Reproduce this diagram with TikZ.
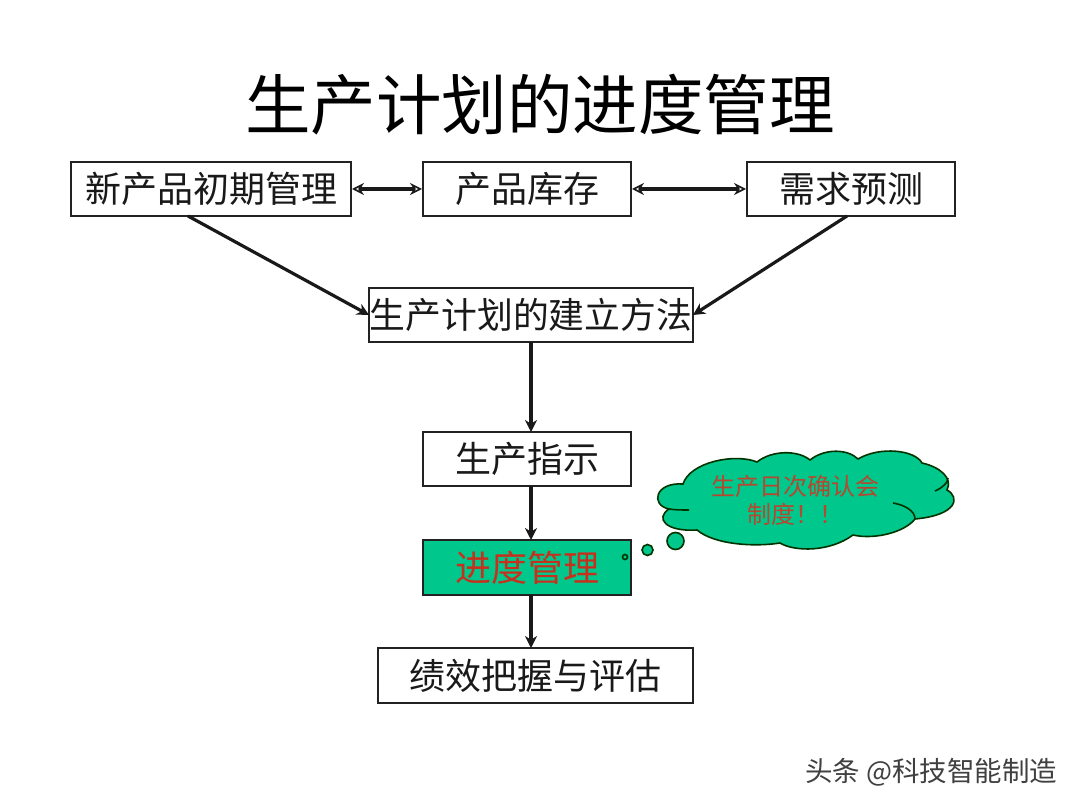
\documentclass[tikz,border=0pt]{standalone}
\usepackage{fontspec}
\usetikzlibrary{arrows.meta}
\newfontfamily\cjk{Noto Sans CJK SC}
\definecolor{cloudgreen}{HTML}{00C78C}
\definecolor{linegray}{HTML}{222222}
\definecolor{redtext}{HTML}{C8301E}
\definecolor{cloudred}{HTML}{B5482F}
\tikzset{
  box/.style={draw=linegray,line width=1.8pt,outer sep=0pt,fill=white,inner sep=0pt,anchor=north west,font=\cjk\fontsize{36}{40}\selectfont,text=black!90},
  conn/.style={line width=3.2pt,draw=black!90,-{Stealth[length=12pt,width=12pt]}},
  biconn/.style={line width=3.4pt,draw=black!90,{Stealth[length=12pt,width=12pt,open,line width=1.6pt]}-{Stealth[length=12pt,width=12pt,open,line width=1.6pt]},shorten <=1pt,shorten >=1pt},
  bubble/.style={draw=black!80!green,line width=1.6pt,fill=cloudgreen},
}
\begin{document}
\begin{tikzpicture}[x=1pt,y=-1pt]
\useasboundingbox[fill=white] (0,0) rectangle (1080,810);
\node[inner sep=0pt,font=\cjk\fontsize{65.5}{70}\selectfont,text=black] (title) at (540,105) {生产计划的进度管理};
\node[box,minimum width=280pt,minimum height=54pt] (a) at (71,162) {新产品初期管理};
\node[box,minimum width=208pt,minimum height=54pt] (b) at (423,162) {产品库存};
\node[box,minimum width=208pt,minimum height=54pt] (c) at (747,162) {需求预测};
\node[box,minimum width=324pt,minimum height=54pt,font=\cjk\fontsize{35.8}{40}\selectfont] (d) at (369,288) {生产计划的建立方法};
\node[box,minimum width=208pt,minimum height=54pt] (e) at (423,432) {生产指示};
\node[box,minimum width=208pt,minimum height=55pt,fill=cloudgreen,text=redtext] (f) at (423,540) {进度管理};
\node[box,minimum width=315pt,minimum height=55pt] (g) at (378,648) {绩效把握与评估};
\draw[biconn] (a.east) -- (b.west);
\draw[biconn] (b.east) -- (c.west);
\draw[conn] ([xshift=-23pt]a.south) -- (d.west);
\draw[conn] ([xshift=-4pt]c.south) -- (d.east);
\draw[conn] (d.south) -- ([xshift=4pt]e.north);
\draw[conn] ([xshift=4pt]e.south) -- ([xshift=4pt]f.north);
\draw[conn] ([xshift=4pt]f.south) -- ([xshift=-4.5pt]g.north);
% cloud
\draw[bubble] (683,484)
  .. controls (690,462) and (735,453) .. (757,462)
  .. controls (772,450) and (798,450) .. (810,460)
  .. controls (825,448) and (848,449) .. (858,459)
  .. controls (880,446) and (915,450) .. (922,463)
  .. controls (940,467) and (953,478) .. (947,490)
  .. controls (960,497) and (958,515) .. (915,519)
  .. controls (905,532) and (875,540) .. (853,535)
  .. controls (830,552) and (795,552) .. (780,543)
  .. controls (755,547) and (715,545) .. (697,530)
  .. controls (665,532) and (655,518) .. (669,509)
  .. controls (650,505) and (655,482) .. (683,484) -- cycle;
\draw[bubble,fill=none] (669,509) .. controls (675,510) and (682,510) .. (689,510);
\draw[bubble,fill=none] (893,503) .. controls (905,505) and (915,511) .. (915,519);
\draw[bubble,fill=none] (948,478) .. controls (948,483) and (942,488) .. (935,491);
\node[inner sep=0pt,align=center,font=\cjk\fontsize{24}{27.5}\selectfont,text=cloudred] (cloudtext) at (795,500.5) {生产日次确认会\\制度！！};
\node[bubble,circle,minimum size=5pt,inner sep=0pt] (b1) at (625,557) {};
\node[bubble,circle,minimum size=11pt,inner sep=0pt] (b2) at (647.5,550) {};
\node[bubble,circle,minimum size=17pt,inner sep=0pt] (b3) at (675.5,541) {};
% watermark
\node[inner sep=0pt,font=\cjk\fontsize{27.5}{30}\selectfont,text=black!75,anchor=west] (wm) at (805,772) {头条 @科技智能制造};
\end{tikzpicture}
\end{document}
